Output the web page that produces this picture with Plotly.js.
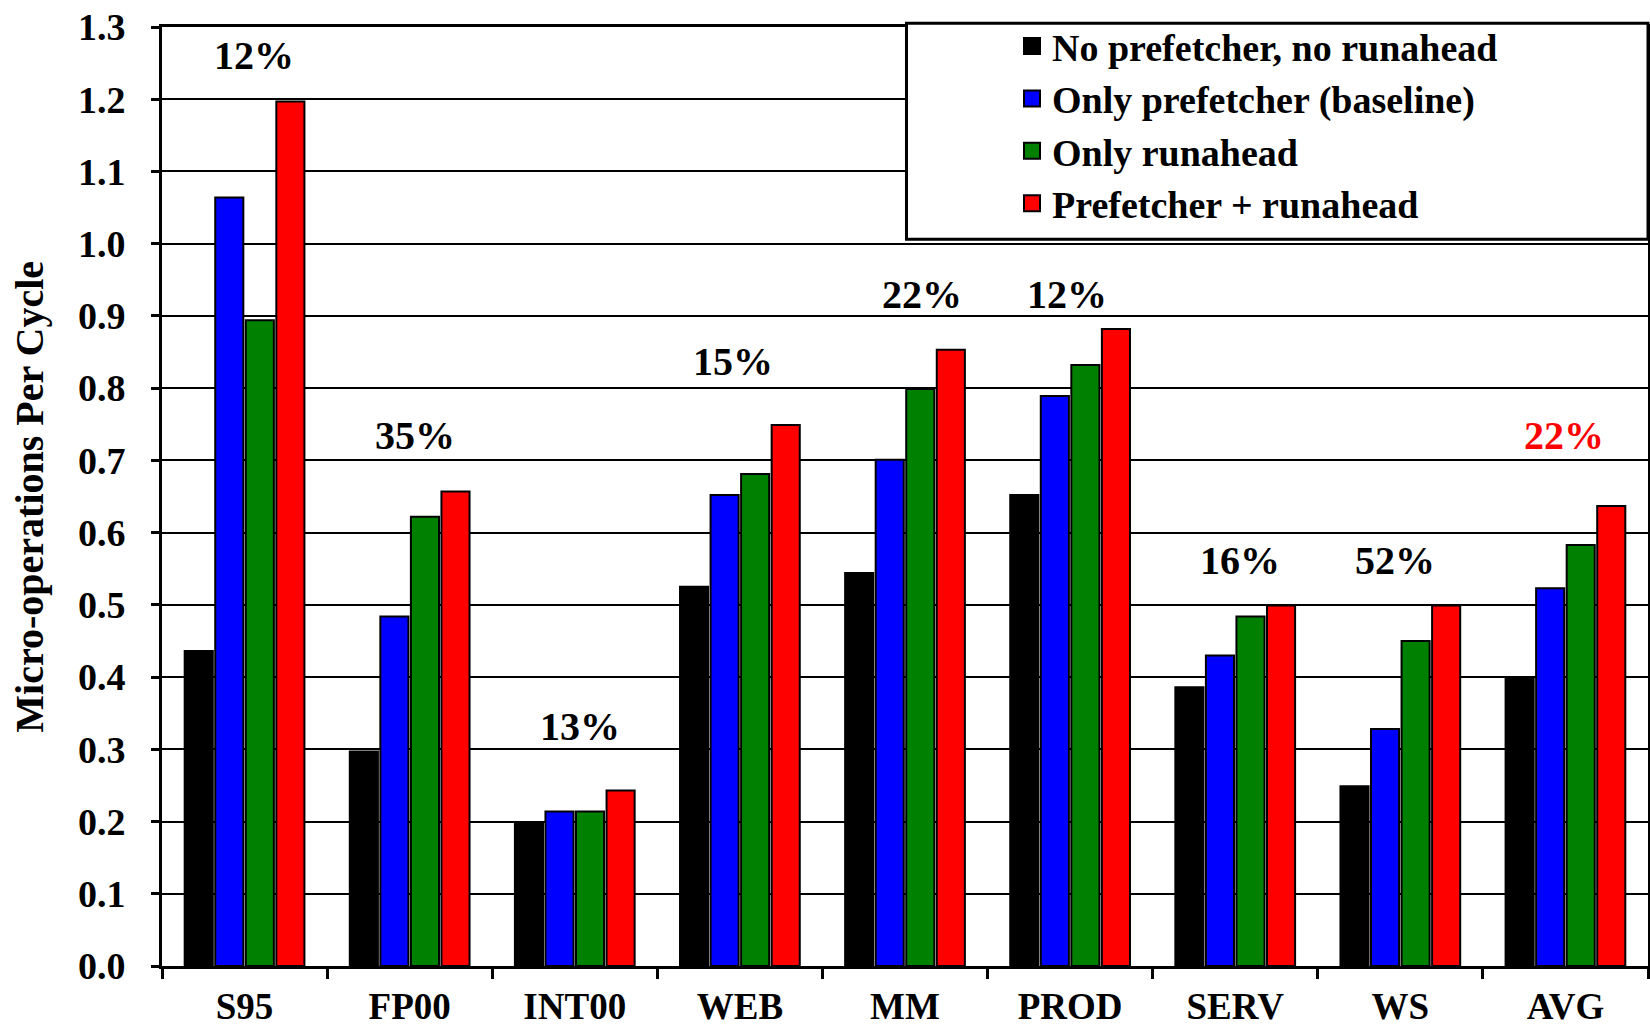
<!DOCTYPE html>
<html>
<head>
<meta charset="utf-8">
<script src="https://cdn.plot.ly/plotly-3.0.1.min.js"></script>
<style>html,body{margin:0;padding:0;background:#fff;}#chart{width:1650px;height:1031px;}</style>
</head>
<body>
<div id="chart"></div>
<script>
const categories = ["S95", "FP00", "INT00", "WEB", "MM", "PROD", "SERV", "WS", "AVG"];
const seriesNames = ["No prefetcher, no runahead", "Only prefetcher (baseline)", "Only runahead", "Prefetcher + runahead"];
const noPrefNoRA = [0.436, 0.297, 0.197, 0.525, 0.544, 0.652, 0.386, 0.249, 0.400];
const onlyPref   = [1.064, 0.484, 0.214, 0.652, 0.701, 0.789, 0.430, 0.328, 0.523];
const onlyRA     = [0.894, 0.622, 0.214, 0.681, 0.799, 0.832, 0.484, 0.450, 0.583];
const prefRA     = [1.197, 0.657, 0.243, 0.749, 0.853, 0.882, 0.499, 0.499, 0.637];
const gainLabels = ["12%", "35%", "13%", "15%", "22%", "12%", "16%", "52%", "22%"];
const gainLabelY = [1.261, 0.735, 0.331, 0.837, 0.929, 0.929, 0.561, 0.561, 0.735];
const gainLabelDx = [0.06, 0.03, 0.03, -0.04, 0.10, -0.02, 0.03, -0.03, -0.01];
const gainColors = ["#000", "#000", "#000", "#000", "#000", "#000", "#000", "#000", "#ff0000"];
const colors = ["#000000", "#0000ff", "#008000", "#ff0000"];
const yTitle = "Micro-operations Per Cycle";

const allSeries = [noPrefNoRA, onlyPref, onlyRA, prefRA];
const FONT = "Liberation Serif";

const traces = allSeries.map((vals, i) => ({
  type: "bar",
  name: seriesNames[i],
  x: categories,
  y: vals,
  legendgroup: "g" + i,
  showlegend: false,
  marker: {color: colors[i], line: {color: "#000", width: 2}},
  hoverinfo: "skip"
}));

// legend-only entries (no data) so the legend swatch can be a larger square
seriesNames.forEach((n, i) => {
  traces.push({
    type: "scatter", mode: "markers",
    name: n, legendgroup: "g" + i,
    x: [null], y: [null],
    marker: {symbol: "square", size: 16, color: colors[i], line: {color: "#000", width: 2}},
    hoverinfo: "skip"
  });
});

const annotations = gainLabels.map((t, i) => ({
  x: i + gainLabelDx[i],
  y: gainLabelY[i],
  xref: "x", yref: "y",
  text: t,
  showarrow: false,
  font: {family: FONT, size: 40, weight: "bold", color: gainColors[i]},
  xanchor: "center", yanchor: "middle"
}));

annotations.push({
  xref: "paper", yref: "paper",
  x: -0.0894, y: 0.5,
  text: yTitle, textangle: -90,
  showarrow: false,
  font: {family: FONT, size: 40, weight: "bold", color: "#000"},
  xanchor: "center", yanchor: "middle"
});

const layout = {
  width: 1650, height: 1031,
  margin: {l: 162, r: 2, t: 27, b: 65},
  paper_bgcolor: "#fff", plot_bgcolor: "#fff",
  barmode: "group",
  bargap: 0.26,
  bargroupgap: 0.08,
  showlegend: true,
  legend: {
    x: 0.572, y: 1.013, xanchor: "left", yanchor: "top",
    bgcolor: "rgba(0,0,0,0)", borderwidth: 0,
    font: {family: FONT, size: 38, weight: "bold", color: "#000"},
    tracegroupgap: 0, itemclick: false, itemwidth: 30
  },
  xaxis: {
    type: "category",
    range: [-0.5, 8.5],
    showline: true, linecolor: "#000", linewidth: 3, mirror: true,
    ticks: "outside", tickson: "boundaries", ticklen: 10, tickwidth: 3, tickcolor: "#000",
    showgrid: false,
    tickfont: {family: FONT, size: 37, weight: "bold", color: "#000"},
    ticklabelstandoff: 6,
    fixedrange: true
  },
  yaxis: {
    range: [0, 1.3], dtick: 0.1, tick0: 0, tickformat: ".1f",
    showline: true, linecolor: "#000", linewidth: 3, mirror: true,
    ticks: "outside", ticklen: 8, tickwidth: 3, tickcolor: "#000",
    showgrid: true, gridcolor: "#000", gridwidth: 2,
    zeroline: false,
    tickfont: {family: FONT, size: 38, weight: "bold", color: "#000"},
    ticklabelstandoff: 18,
    fixedrange: true
  },
  shapes: [{
    type: "rect", xref: "paper", yref: "paper",
    x0: 0.501, x1: 1.0, y0: 0.774, y1: 1.004,
    fillcolor: "#fff", line: {color: "#000", width: 3}, layer: "above"
  }],
  annotations: annotations
};

Plotly.newPlot("chart", traces, layout, {displayModeBar: false, staticPlot: true});
</script>
</body>
</html>
